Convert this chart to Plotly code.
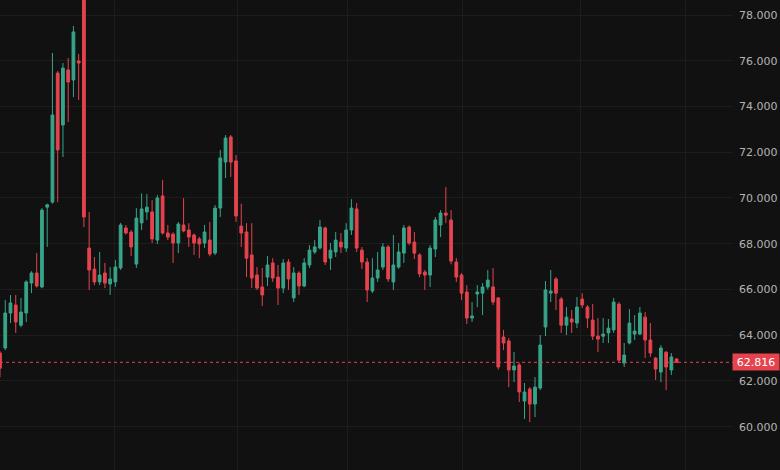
import plotly.graph_objects as go

# OHLC per session (oldest -> newest)
opens = [
    63.22, 63.44, 64.97, 65.32, 64.44, 64.97, 66.28, 66.72, 66.11, 69.60,
    69.82, 75.46, 73.19, 75.60, 75.16, 75.99, 79.30, 67.81, 66.89, 66.33,
    66.72, 66.24, 66.33, 66.94, 68.69, 68.51, 67.11, 68.91, 69.39, 69.39,
    68.16, 70.09, 68.47, 68.42, 68.03, 68.82, 68.60, 68.38, 68.21, 68.03,
    68.16, 67.59, 69.56, 71.57, 72.67, 71.62, 68.77, 68.51, 67.51, 66.63,
    66.11, 66.54, 67.16, 66.54, 66.06, 67.20, 65.63, 66.72, 66.15, 67.07,
    67.64, 67.81, 68.69, 67.37, 67.64, 68.07, 67.81, 68.60, 69.52, 67.72,
    67.20, 65.93, 66.50, 66.98, 67.86, 66.33, 66.98, 67.59, 68.73, 68.07,
    67.51, 66.76, 66.63, 67.77, 68.82, 69.34, 69.04, 67.20, 66.63, 65.89,
    64.75, 65.80, 65.84, 66.11, 66.11, 65.63, 63.92, 63.75, 62.48, 62.70,
    61.12, 61.65, 60.99, 61.69, 64.36, 65.84, 66.46, 65.58, 64.44, 64.71,
    64.53, 65.58, 65.23, 64.66, 63.96, 63.96, 64.10, 64.23, 65.36, 62.78,
    63.66, 64.05, 64.05, 64.79, 63.79, 63.00, 62.39, 63.26, 62.48, 62.96,
]
highs = [
    63.30, 65.54, 65.76, 65.76, 65.63, 66.40, 66.80, 67.59, 69.56, 69.75,
    76.34, 75.55, 75.90, 76.12, 77.52, 76.30, 79.60, 69.39, 67.42, 67.64,
    67.16, 66.98, 67.29, 68.91, 68.82, 68.60, 69.56, 70.20, 70.17, 69.91,
    70.13, 70.79, 68.82, 68.50, 68.95, 70.00, 68.90, 68.45, 68.30, 68.82,
    68.95, 69.69, 72.10, 72.75, 72.75, 71.88, 69.75, 68.90, 68.90, 66.98,
    66.94, 67.46, 67.37, 67.07, 67.33, 67.33, 66.98, 66.80, 67.37, 67.94,
    68.16, 69.04, 68.75, 68.03, 68.51, 68.47, 68.90, 69.95, 69.78, 67.86,
    67.37, 67.37, 67.64, 68.03, 67.94, 68.38, 68.03, 68.82, 68.80, 68.51,
    67.59, 66.85, 67.94, 69.17, 69.47, 70.48, 69.47, 67.37, 66.72, 66.19,
    65.45, 66.19, 66.28, 66.85, 66.94, 65.67, 64.23, 63.88, 63.26, 62.80,
    61.91, 61.73, 62.17, 64.01, 66.37, 66.85, 66.54, 65.67, 65.23, 65.10,
    65.67, 65.84, 65.32, 65.36, 64.75, 64.75, 64.71, 65.63, 65.45, 63.66,
    65.14, 64.88, 65.23, 65.01, 64.53, 63.05, 63.57, 63.30, 63.22, 63.00,
]
lows = [
    62.17, 63.35, 64.53, 64.10, 64.35, 64.58, 65.84, 66.08, 66.05, 67.86,
    69.75, 69.82, 71.79, 73.32, 74.41, 74.28, 68.73, 65.98, 66.19, 66.19,
    66.06, 65.76, 66.11, 66.85, 68.40, 67.46, 66.94, 68.60, 69.04, 68.03,
    67.99, 68.40, 68.16, 67.16, 67.59, 68.50, 67.86, 67.51, 67.37, 67.81,
    67.45, 67.50, 69.17, 70.87, 70.92, 68.95, 67.86, 66.54, 66.06, 65.98,
    65.28, 66.15, 66.33, 65.32, 65.84, 65.98, 65.45, 65.76, 66.10, 66.94,
    67.55, 67.75, 67.07, 66.85, 67.42, 67.59, 67.64, 68.38, 67.64, 66.89,
    65.45, 65.84, 66.33, 66.85, 66.33, 65.98, 66.90, 67.16, 67.94, 67.33,
    66.54, 65.98, 66.11, 67.42, 68.29, 68.90, 67.10, 66.33, 65.54, 64.49,
    64.58, 65.23, 64.88, 66.00, 65.32, 62.50, 63.35, 61.73, 61.95, 61.08,
    60.34, 60.20, 60.42, 61.60, 63.96, 65.45, 65.10, 64.10, 64.01, 64.10,
    64.31, 65.19, 64.31, 63.79, 63.26, 63.66, 63.66, 64.10, 62.80, 62.61,
    63.60, 63.79, 64.01, 63.00, 63.05, 62.04, 61.95, 61.60, 62.26, 62.80,
]
closes = [
    62.56, 64.97, 65.41, 64.58, 65.01, 66.33, 66.72, 66.15, 69.47, 69.70,
    73.63, 72.10, 75.68, 75.07, 77.26, 75.90, 69.17, 66.85, 66.33, 66.63,
    66.28, 66.46, 66.98, 68.82, 68.47, 67.86, 69.12, 69.52, 69.60, 68.21,
    70.00, 68.47, 68.29, 68.03, 68.86, 68.56, 68.29, 68.03, 67.99, 68.51,
    67.55, 69.56, 71.75, 72.62, 71.57, 69.21, 68.47, 67.37, 66.50, 66.06,
    65.76, 67.07, 66.50, 66.06, 67.16, 66.46, 66.72, 66.15, 67.16, 67.72,
    67.86, 68.73, 67.20, 67.72, 68.16, 67.86, 68.60, 69.56, 67.81, 67.20,
    65.98, 66.50, 66.85, 67.86, 66.46, 67.07, 67.64, 68.69, 68.03, 67.59,
    66.68, 66.63, 67.81, 69.04, 69.34, 69.25, 67.24, 66.54, 65.84, 64.75,
    64.84, 65.89, 66.11, 66.41, 65.45, 62.61, 63.66, 62.48, 62.65, 61.52,
    61.52, 60.99, 61.73, 63.57, 65.98, 65.93, 65.84, 64.44, 64.79, 64.58,
    65.23, 65.32, 64.75, 63.96, 63.83, 64.05, 64.31, 65.45, 62.91, 63.13,
    64.53, 64.18, 64.97, 63.79, 63.22, 62.52, 63.44, 62.61, 63.05, 62.816,
]
sessions = list(range(len(closes)))
last_price = closes[-1]

# vertical grid (period boundaries), in session units
period_breaks = [21.9, 45.2, 66.2, 88.1, 110.6, 130.6]
price_ticks = [60, 62, 64, 66, 68, 70, 72, 74, 76, 78]

GREEN = "#37a48a"
RED = "#e5434e"
BG = "#111111"
GRID = "#1d1d1d"

fig = go.Figure(go.Candlestick(
    x=sessions, open=opens, high=highs, low=lows, close=closes,
    increasing=dict(line=dict(color=GREEN, width=1), fillcolor=GREEN),
    decreasing=dict(line=dict(color=RED, width=1), fillcolor=RED),
    whiskerwidth=0,
    hoverinfo="x+y",
))

fig.add_shape(
    type="line", xref="paper", x0=0, x1=1, yref="y", y0=last_price, y1=last_price,
    line=dict(color=RED, width=1, dash="dot"),
)
fig.add_annotation(
    xref="paper", x=1, xanchor="left", xshift=-1, yref="y", y=last_price,
    text=f"{last_price:.3f}", showarrow=False,
    bgcolor=RED, font=dict(color="#ffffff", size=11, family="DejaVu Sans"),
    width=46, height=16, borderpad=0,
)

fig.update_layout(
    width=780, height=470,
    paper_bgcolor=BG, plot_bgcolor=BG,
    margin=dict(l=0, r=47, t=0, b=0),
    showlegend=False,
    boxgap=0.25,
    font=dict(family="DejaVu Sans", size=11, color="#b4b4b4"),
    xaxis=dict(
        range=[0, 139.75], rangeslider=dict(visible=False),
        tickvals=period_breaks, showticklabels=False, ticks="",
        showgrid=True, gridcolor=GRID, gridwidth=1, zeroline=False, showline=False,
    ),
    yaxis=dict(
        side="right", range=[58.107, 78.656],
        tickvals=price_ticks, tickformat=".3f", ticks="",
        ticklabelstandoff=5,
        showgrid=True, gridcolor=GRID, gridwidth=1, zeroline=False, showline=False,
    ),
)

# page has a default body margin; drop it so the figure fills the window
fig.write_html(
    "out.html",
    config={"displayModeBar": False},
    post_script="document.body.style.margin='0';document.body.style.overflow='hidden';",
)
